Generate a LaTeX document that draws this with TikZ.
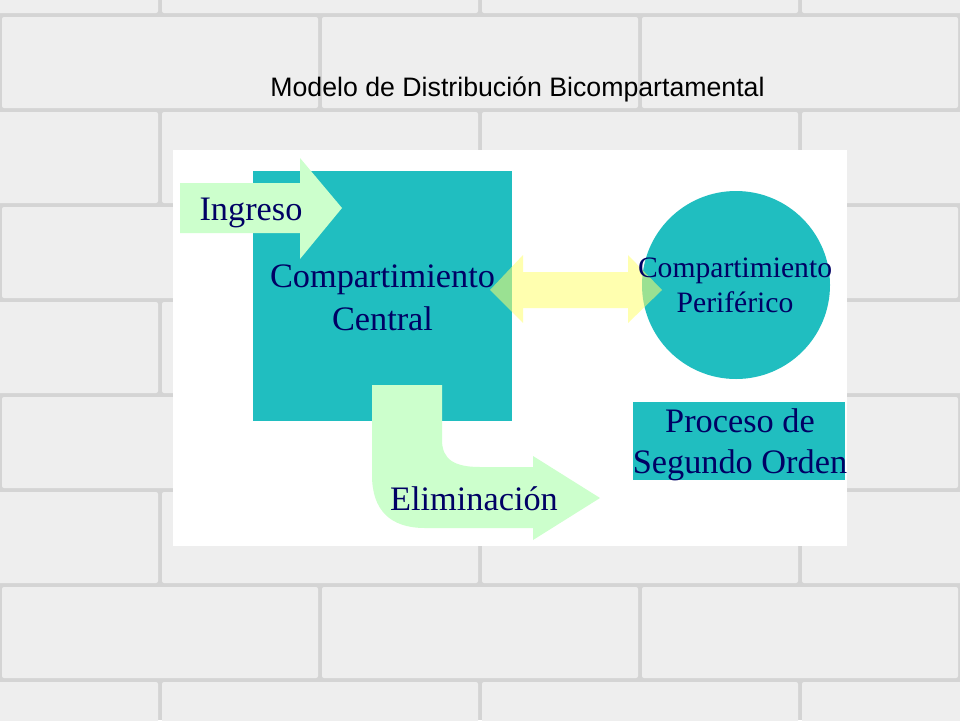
\documentclass[tikz,border=0pt]{standalone}
\usepackage{fontspec}
\setmainfont{Liberation Serif}
\newfontfamily\arialf{Liberation Sans}
\definecolor{bgc}{RGB}{212,212,212}
\definecolor{brickc}{RGB}{238,238,238}
\definecolor{tealc}{RGB}{32,190,192}
\definecolor{paleg}{RGB}{204,255,204}
\definecolor{yelc}{RGB}{255,255,110}
\definecolor{navy}{RGB}{0,0,100}
\tikzset{
  brick/.style={fill=brickc, rounded corners=2pt},
  tealbox/.style={fill=tealc, draw=none, inner sep=0pt, rectangle},
  tealcirc/.style={fill=tealc, draw=none, inner sep=0pt, circle},
  blockarrow/.style={fill=paleg, draw=none},
  dblarrow/.style={fill=yelc, fill opacity=0.55, draw=none},
  lbl/.style={text=navy, inner sep=0pt, anchor=base, align=center},
  big/.style={font=\fontsize{34.3}{43}\selectfont},
  mid/.style={font=\fontsize{29.6}{35}\selectfont}
}
\begin{document}
\begin{tikzpicture}[x=1pt,y=-1pt]
\useasboundingbox (0,0) rectangle (960,720);
\fill[bgc] (0,0) rectangle (960,720);
% brick wall
\foreach \r in {0,...,8}{
  \pgfmathsetmacro{\yo}{-80+95*\r}
  \pgfmathsetmacro{\xo}{mod(\r,2)*160-160}
  \foreach \c in {0,...,4}{
    \fill[brick] ({\xo+320*\c+2},{\yo+2}) rectangle ({\xo+320*\c+318},{\yo+93});
  }
}
% title
\node[inner sep=0pt, font=\arialf\fontsize{26.7}{32}\selectfont] (title) at (517.5,89) {Modelo de Distribución Bicompartamental};
% white panel
\node[fill=white, inner sep=0pt, minimum width=674, minimum height=396] (panel) at (510,348) {};
% central compartment
\node[tealbox, minimum width=259, minimum height=250] (central) at (382.5,296) {};
% peripheral compartment
\node[tealcirc, minimum size=188] (periph) at (736,285) {};
% second order process box
\node[tealbox, minimum width=212, minimum height=78] (proc) at (739,441) {};
% Ingreso arrow
\fill[blockarrow] (180,183) -- (300,183) -- (300,158) -- (342,208) -- (300,259) -- (300,233) -- (180,233) -- cycle;
% Eliminacion arrow
\fill[blockarrow] (372,385) -- (442,385) -- (442,440) .. controls (442,460) and (455,467) .. (480,467) -- (533,467) -- (533,456) -- (600,498) -- (533,540) -- (533,528) -- (425,528) .. controls (390,528) and (372,510) .. (372,475) -- cycle;
% double arrow between compartments
\fill[dblarrow] (490,290) -- (523,255) -- (523,272) -- (628,272) -- (628,255) -- (662,290) -- (628,323) -- (628,308) -- (523,308) -- (523,323) -- cycle;
% labels
\node[lbl, big] (ingreso) at (251,220) {Ingreso};
\node[lbl, big] (centralA) at (382.5,287) {Compartimiento};
\node[lbl, big] (centralB) at (382.5,330) {Central};
\node[lbl, mid] (periA) at (735,277) {Compartimiento};
\node[lbl, mid] (periB) at (735,312) {Periférico};
\node[lbl, big] (procA) at (740,432) {Proceso de};
\node[lbl, big] (procB) at (740,473) {Segundo Orden};
\node[lbl, big] (elim) at (474,510) {Eliminación};
\end{tikzpicture}
\end{document}
